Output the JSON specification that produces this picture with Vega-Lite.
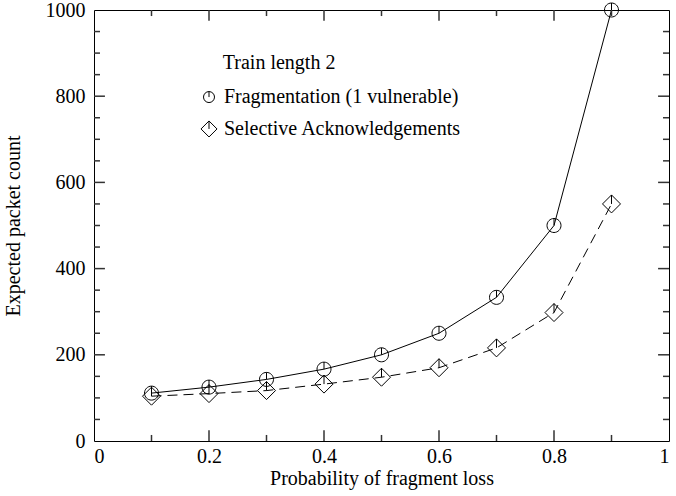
{
  "$schema": "https://vega.github.io/schema/vega-lite/v6.json",
  "width": 575,
  "height": 431,
  "autosize": {"type": "none"},
  "padding": {"left": 94, "top": 10, "right": 7, "bottom": 55},
  "background": "white",
  "config": {
    "view": {"stroke": "black", "strokeWidth": 1},
    "font": "Liberation Serif",
    "axis": {
      "grid": false,
      "domain": false,
      "ticks": false,
      "labelColor": "black",
      "titleColor": "black",
      "labelFont": "Liberation Serif",
      "titleFont": "Liberation Serif",
      "labelFontSize": 20,
      "titleFontSize": 20,
      "titleFontWeight": "normal"
    }
  },
  "datasets": {
    "curves": [
      {"series": "Fragmentation (1 vulnerable)", "p": 0.1, "count": 111.1},
      {"series": "Fragmentation (1 vulnerable)", "p": 0.2, "count": 125},
      {"series": "Fragmentation (1 vulnerable)", "p": 0.3, "count": 142.9},
      {"series": "Fragmentation (1 vulnerable)", "p": 0.4, "count": 166.7},
      {"series": "Fragmentation (1 vulnerable)", "p": 0.5, "count": 200},
      {"series": "Fragmentation (1 vulnerable)", "p": 0.6, "count": 250},
      {"series": "Fragmentation (1 vulnerable)", "p": 0.7, "count": 333.3},
      {"series": "Fragmentation (1 vulnerable)", "p": 0.8, "count": 500},
      {"series": "Fragmentation (1 vulnerable)", "p": 0.9, "count": 1000},
      {"series": "Selective Acknowledgements", "p": 0.1, "count": 104},
      {"series": "Selective Acknowledgements", "p": 0.2, "count": 110},
      {"series": "Selective Acknowledgements", "p": 0.3, "count": 117},
      {"series": "Selective Acknowledgements", "p": 0.4, "count": 132},
      {"series": "Selective Acknowledgements", "p": 0.5, "count": 148},
      {"series": "Selective Acknowledgements", "p": 0.6, "count": 170},
      {"series": "Selective Acknowledgements", "p": 0.7, "count": 216},
      {"series": "Selective Acknowledgements", "p": 0.8, "count": 298},
      {"series": "Selective Acknowledgements", "p": 0.9, "count": 550}
    ],
    "xticks": [
      {"v": 0.2, "kind": "major"}, {"v": 0.4, "kind": "major"}, {"v": 0.6, "kind": "major"}, {"v": 0.8, "kind": "major"},
      {"v": 0.1, "kind": "minor"}, {"v": 0.3, "kind": "minor"}, {"v": 0.5, "kind": "minor"}, {"v": 0.7, "kind": "minor"}, {"v": 0.9, "kind": "minor"}
    ],
    "yticks": [
      {"v": 200, "kind": "major"}, {"v": 400, "kind": "major"}, {"v": 600, "kind": "major"}, {"v": 800, "kind": "major"},
      {"v": 50, "kind": "minor"}, {"v": 100, "kind": "minor"}, {"v": 150, "kind": "minor"},
      {"v": 250, "kind": "minor"}, {"v": 300, "kind": "minor"}, {"v": 350, "kind": "minor"},
      {"v": 450, "kind": "minor"}, {"v": 500, "kind": "minor"}, {"v": 550, "kind": "minor"},
      {"v": 650, "kind": "minor"}, {"v": 700, "kind": "minor"}, {"v": 750, "kind": "minor"},
      {"v": 850, "kind": "minor"}, {"v": 900, "kind": "minor"}, {"v": 950, "kind": "minor"}
    ],
    "legend": [
      {"label": "Train length 2", "lx": 0.224, "ly": 877, "tx": 0.224, "symbol": "none"},
      {"label": "Fragmentation (1 vulnerable)", "lx": 0.2, "ly": 798, "tx": 0.226, "symbol": "circle"},
      {"label": "Selective Acknowledgements", "lx": 0.2, "ly": 724, "tx": 0.226, "symbol": "diamond"}
    ]
  },
  "layer": [
    {
      "data": {"name": "curves"},
      "transform": [{"filter": "datum.series === 'Fragmentation (1 vulnerable)'"}],
      "mark": {"type": "line", "color": "black", "strokeWidth": 1},
      "encoding": {
        "x": {"field": "p", "type": "quantitative", "scale": {"domain": [0, 1]},
              "axis": {"orient": "bottom", "values": [0, 0.2, 0.4, 0.6, 0.8, 1], "labelPadding": 5,
                       "title": "Probability of fragment loss", "titlePadding": 2,
                       "labelExpr": "datum.value === 0 ? '0' : datum.value === 1 ? '1' : format(datum.value, '.1f')"}},
        "y": {"field": "count", "type": "quantitative", "scale": {"domain": [0, 1000]},
              "axis": {"orient": "left", "values": [0, 200, 400, 600, 800, 1000], "labelPadding": 9,
                       "format": "d", "title": "Expected packet count", "titlePadding": 22}}
      }
    },
    {
      "data": {"name": "curves"},
      "transform": [{"filter": "datum.series === 'Selective Acknowledgements'"}],
      "mark": {"type": "line", "color": "black", "strokeWidth": 1, "strokeDash": [10, 6]},
      "encoding": {
        "x": {"field": "p", "type": "quantitative"},
        "y": {"field": "count", "type": "quantitative"}
      }
    },
    {
      "data": {"name": "curves"},
      "transform": [{"filter": "datum.series === 'Fragmentation (1 vulnerable)'"}],
      "mark": {"type": "point", "filled": false, "color": "black", "strokeWidth": 1, "opacity": 1, "size": 196,
               "shape": "M0,-1A1,1 0 1,1 0,1A1,1 0 1,1 0,-1M0,-1L0,0"},
      "encoding": {
        "x": {"field": "p", "type": "quantitative"},
        "y": {"field": "count", "type": "quantitative"}
      }
    },
    {
      "data": {"name": "curves"},
      "transform": [{"filter": "datum.series === 'Selective Acknowledgements'"}],
      "mark": {"type": "point", "filled": false, "color": "black", "strokeWidth": 1, "opacity": 1, "size": 324,
               "shape": "M0,-1L1,0L0,1L-1,0ZM0,-1L0,0"},
      "encoding": {
        "x": {"field": "p", "type": "quantitative"},
        "y": {"field": "count", "type": "quantitative"}
      }
    },
    {
      "data": {"name": "xticks"},
      "transform": [{"filter": "datum.kind === 'major'"}],
      "mark": {"type": "rule", "color": "#333333", "strokeWidth": 1.5, "opacity": 1},
      "encoding": {"x": {"field": "v", "type": "quantitative"}, "y": {"datum": 0, "type": "quantitative"}, "y2": {"datum": 25}}
    },
    {
      "data": {"name": "xticks"},
      "transform": [{"filter": "datum.kind === 'major'"}],
      "mark": {"type": "rule", "color": "#333333", "strokeWidth": 1.5, "opacity": 1},
      "encoding": {"x": {"field": "v", "type": "quantitative"}, "y": {"datum": 1000, "type": "quantitative"}, "y2": {"datum": 975}}
    },
    {
      "data": {"name": "xticks"},
      "transform": [{"filter": "datum.kind === 'minor'"}],
      "mark": {"type": "rule", "color": "#333333", "strokeWidth": 1.5, "opacity": 1},
      "encoding": {"x": {"field": "v", "type": "quantitative"}, "y": {"datum": 0, "type": "quantitative"}, "y2": {"datum": 14}}
    },
    {
      "data": {"name": "xticks"},
      "transform": [{"filter": "datum.kind === 'minor'"}],
      "mark": {"type": "rule", "color": "#333333", "strokeWidth": 1.5, "opacity": 1},
      "encoding": {"x": {"field": "v", "type": "quantitative"}, "y": {"datum": 1000, "type": "quantitative"}, "y2": {"datum": 986}}
    },
    {
      "data": {"name": "yticks"},
      "transform": [{"filter": "datum.kind === 'major'"}],
      "mark": {"type": "rule", "color": "#333333", "strokeWidth": 1.5, "opacity": 1},
      "encoding": {"y": {"field": "v", "type": "quantitative"}, "x": {"datum": 0, "type": "quantitative"}, "x2": {"datum": 0.019}}
    },
    {
      "data": {"name": "yticks"},
      "transform": [{"filter": "datum.kind === 'major'"}],
      "mark": {"type": "rule", "color": "#333333", "strokeWidth": 1.5, "opacity": 1},
      "encoding": {"y": {"field": "v", "type": "quantitative"}, "x": {"datum": 1, "type": "quantitative"}, "x2": {"datum": 0.981}}
    },
    {
      "data": {"name": "yticks"},
      "transform": [{"filter": "datum.kind === 'minor'"}],
      "mark": {"type": "rule", "color": "#333333", "strokeWidth": 1.5, "opacity": 1},
      "encoding": {"y": {"field": "v", "type": "quantitative"}, "x": {"datum": 0, "type": "quantitative"}, "x2": {"datum": 0.0104}}
    },
    {
      "data": {"name": "yticks"},
      "transform": [{"filter": "datum.kind === 'minor'"}],
      "mark": {"type": "rule", "color": "#333333", "strokeWidth": 1.5, "opacity": 1},
      "encoding": {"y": {"field": "v", "type": "quantitative"}, "x": {"datum": 1, "type": "quantitative"}, "x2": {"datum": 0.9896}}
    },
    {
      "data": {"name": "legend"},
      "mark": {"type": "text", "align": "left", "baseline": "middle", "fontSize": 20, "font": "Liberation Serif", "color": "black"},
      "encoding": {
        "x": {"field": "tx", "type": "quantitative"},
        "y": {"field": "ly", "type": "quantitative"},
        "text": {"field": "label"}
      }
    },
    {
      "data": {"name": "legend"},
      "transform": [{"filter": "datum.symbol === 'circle'"}],
      "mark": {"type": "point", "filled": false, "color": "black", "strokeWidth": 1, "opacity": 1, "size": 121,
               "shape": "M0,-1A1,1 0 1,1 0,1A1,1 0 1,1 0,-1M0,-1L0,0"},
      "encoding": {
        "x": {"field": "lx", "type": "quantitative"},
        "y": {"field": "ly", "type": "quantitative"}
      }
    },
    {
      "data": {"name": "legend"},
      "transform": [{"filter": "datum.symbol === 'diamond'"}],
      "mark": {"type": "point", "filled": false, "color": "black", "strokeWidth": 1, "opacity": 1, "size": 256,
               "shape": "M0,-1L1,0L0,1L-1,0ZM0,-1L0,0"},
      "encoding": {
        "x": {"field": "lx", "type": "quantitative"},
        "y": {"field": "ly", "type": "quantitative"}
      }
    }
  ]
}
